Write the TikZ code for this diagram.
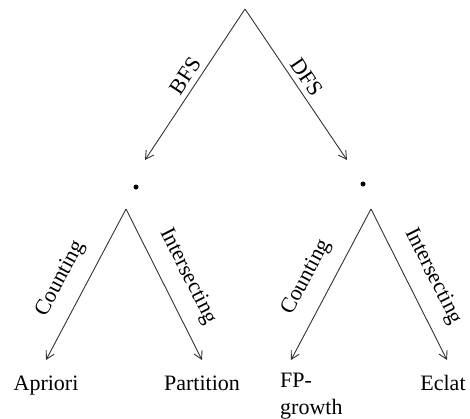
\documentclass[tikz,border=0pt]{standalone}
\usepackage{fontspec}
\setmainfont{Liberation Serif}
\usetikzlibrary{arrows.meta}
\tikzset{
  edge/.style={draw=black!80, line width=0.9pt,
    -{Straight Barb[length=8pt,width=9pt,line width=0.9pt]}},
  toplabel/.style={sloped, above, inner sep=5pt, font=\fontsize{22}{27}\selectfont},
  sublabel/.style={sloped, above, inner sep=15pt, font=\fontsize{22}{27}\selectfont},
  branch/.style={circle, fill=black, inner sep=0pt, minimum size=5pt},
  leaf/.style={inner sep=0pt, outer ysep=15pt, text height=15pt, text depth=5pt,
    font=\fontsize{22}{27}\selectfont},
}
\begin{document}
\begin{tikzpicture}[x=1pt, y=-1pt]
  \useasboundingbox (0,0) rectangle (470,418);

  % root and the two search strategies
  \coordinate (root) at (245,9);
  \coordinate (bfsend) at (145,160);
  \coordinate (dfsend) at (347,160);
  \node[branch] (bfs) at (136,187) {};
  \node[branch] (dfs) at (363,184) {};

  % apexes of the two lower branches
  \coordinate (bfstop) at (126,209);
  \coordinate (dfstop) at (371,209);

  % algorithms
  \node[leaf, anchor=base] (apriori) at (46,390) {Apriori};
  \node[leaf, anchor=base] (partition) at (202,390) {Partition};
  \node[leaf, anchor=base] (eclat) at (443,390) {Eclat};
  \node[leaf, anchor=north west, align=left, text height=, text depth=] (fp) at (280,358)
    {FP-\\growth};

  % connectors
  \draw[edge] (root) -- node[toplabel, pos=0.49] {BFS} (bfsend);
  \draw[edge] (root) -- node[toplabel, pos=0.50] {DFS} (dfsend);

  \draw[edge] (bfstop) -- node[sublabel, pos=0.54] {Counting} (apriori.north);
  \draw[edge] (bfstop) -- node[sublabel, pos=0.52] {Intersecting} (partition.north);
  \draw[edge] (dfstop) -- node[sublabel, pos=0.53] {Counting} ([xshift=11pt,yshift=-2pt]fp.north west);
  \draw[edge] (dfstop) -- node[sublabel, pos=0.52] {Intersecting} ([xshift=4pt]eclat.north);
\end{tikzpicture}
\end{document}
